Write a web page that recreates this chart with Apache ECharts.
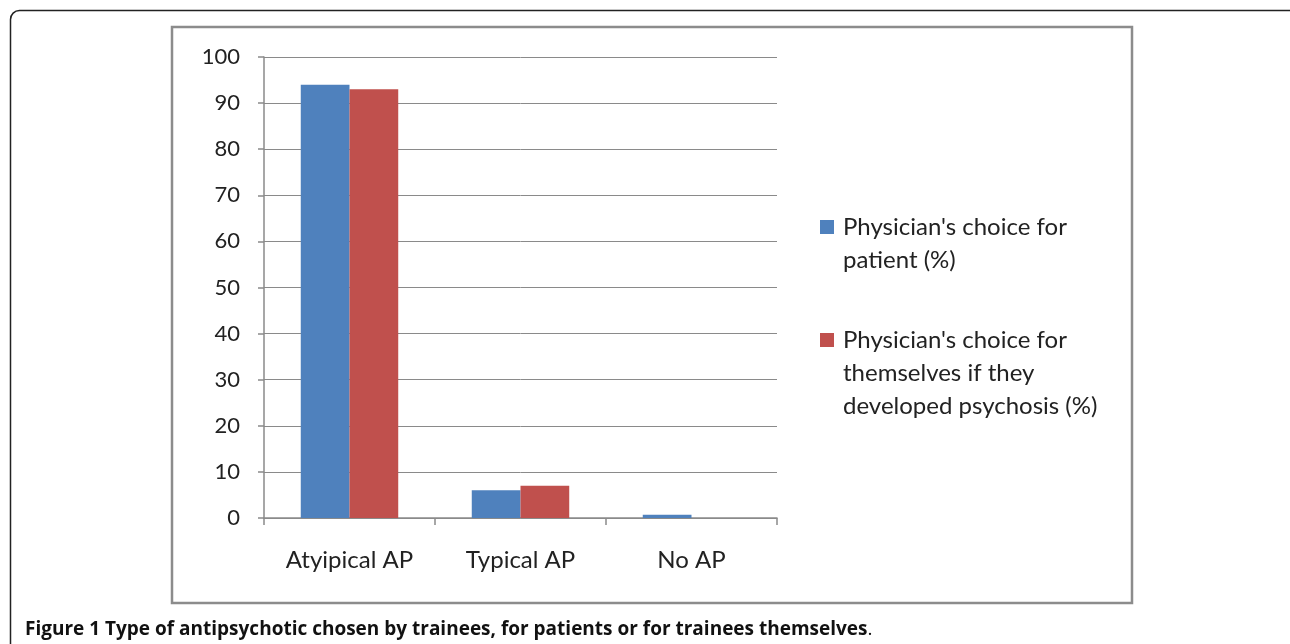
<!DOCTYPE html>
<html>
<head>
<meta charset="utf-8">
<script src="https://cdn.jsdelivr.net/npm/echarts@6/dist/echarts.min.js"></script>
<style>
    html, body { margin: 0; padding: 0; background: #fff; }
    #chart { width: 1290px; height: 644px; }
</style>
</head>
<body>
<div id="chart"></div>
<script>
// 数据
const categories = ['Atyipical AP', 'Typical AP', 'No AP'];
const patientValues = [94, 6, 0.7];
const selfValues = [93, 7, 0];
const seriesNames = [
    "Physician's choice for\npatient (%)",
    "Physician's choice for\nthemselves if they\ndeveloped psychosis (%)"
];
const captionBold = 'Figure 1 Type of antipsychotic chosen by trainees, for patients or for trainees themselves';

const FONT = 'Lato, "Open Sans", sans-serif';
const LINE_H = 33;

document.addEventListener('DOMContentLoaded', () => {
    const chart = echarts.init(document.getElementById('chart'));

    // 图例：用前置空行让图标对齐第一行文字
    function legendFor(name, iconCenterY) {
        const lines = name.split('\n').length;
        const total = lines * 2 - 1;
        const h = total * LINE_H;
        return {
            data: [{ name: name, icon: 'rect' }],
            orient: 'vertical',
            left: 820,
            top: iconCenterY - h / 2,
            padding: 0,
            itemWidth: 14,
            itemHeight: 14,
            itemGap: 0,
            selectedMode: false,
            formatter: n => '\n'.repeat(lines - 1) + n,
            textStyle: {
                fontFamily: FONT,
                fontSize: 24,
                color: '#222',
                lineHeight: LINE_H,
                padding: [0, 0, 0, 4]
            }
        };
    }

    const option = {
        animation: false,
        grid: {
            left: 264,
            top: 57,
            right: 1290 - 777,
            bottom: 644 - 518
        },
        legend: [
            legendFor(seriesNames[0], 227),
            legendFor(seriesNames[1], 340)
        ],
        xAxis: {
            type: 'category',
            data: categories,
            axisLine: { lineStyle: { color: '#8a8a8a', width: 1.5 } },
            axisTick: { show: true, length: 7, lineStyle: { color: '#8a8a8a', width: 1.5 } },
            axisLabel: {
                margin: 30,
                fontFamily: FONT,
                fontSize: 24,
                color: '#222'
            }
        },
        yAxis: {
            type: 'value',
            min: 0,
            max: 100,
            interval: 10,
            axisLine: { show: true, lineStyle: { color: '#8a8a8a', width: 1.5 } },
            axisTick: { show: true, length: 6, lineStyle: { color: '#8a8a8a', width: 1.5 } },
            splitLine: { lineStyle: { color: '#8a8a8a', width: 1 } },
            axisLabel: {
                margin: 24,
                fontFamily: FONT,
                fontSize: 22,
                color: '#222'
            }
        },
        series: [
            {
                name: seriesNames[0],
                type: 'bar',
                data: patientValues,
                barGap: '0%',
                barCategoryGap: '43%',
                itemStyle: { color: '#4F81BD' }
            },
            {
                name: seriesNames[1],
                type: 'bar',
                data: selfValues,
                barGap: '0%',
                barCategoryGap: '43%',
                itemStyle: { color: '#C0504D' }
            }
        ],
        graphic: [
            {
                type: 'rect',
                shape: { x: 10.5, y: 10.5, width: 1290, height: 720, r: 9 },
                style: { fill: 'none', stroke: '#222', lineWidth: 1.5 },
                silent: true
            },
            {
                type: 'rect',
                shape: { x: 172, y: 27, width: 960, height: 576 },
                style: { fill: 'none', stroke: '#8c8c8c', lineWidth: 2.5 },
                silent: true
            },
            {
                type: 'text',
                left: 25,
                top: 620,
                style: {
                    text: '{b|' + captionBold + '}{n|.}',
                    rich: {
                        b: {
                            fontFamily: '"Open Sans", sans-serif',
                            fontWeight: 'bold',
                            fontSize: 19,
                            fill: '#111'
                        },
                        n: {
                            fontFamily: '"Open Sans", sans-serif',
                            fontSize: 19,
                            fill: '#111'
                        }
                    }
                },
                silent: true
            }
        ]
    };

    chart.setOption(option);
});
</script>
</body>
</html>
